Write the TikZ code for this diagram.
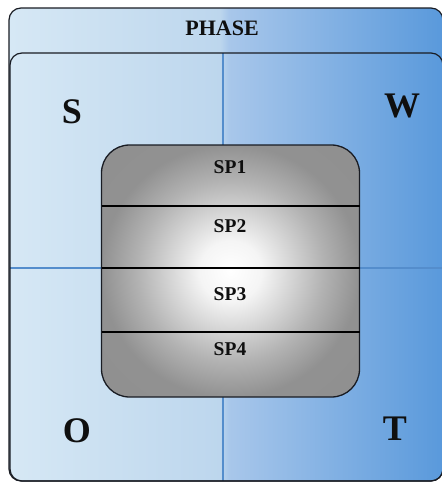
\documentclass[tikz,border=0pt]{standalone}
\usepackage{fontspec}
\setmainfont{Liberation Serif}

% background: light blue on the left, deeper blue on the right
% (a path's bounding box spans 25bp..75bp of the shading)
\pgfdeclarehorizontalshading{quadbg}{100bp}{%
  rgb(0bp)=(0.84,0.91,0.96);
  rgb(25bp)=(0.84,0.91,0.96);
  rgb(49.3bp)=(0.74,0.84,0.93);
  rgb(50.3bp)=(0.66,0.78,0.92);
  rgb(75bp)=(0.35,0.60,0.86);
  rgb(100bp)=(0.35,0.60,0.86)}
% central stack: bright core fading to grey
\pgfdeclareradialshading{stackglow}{\pgfpoint{0bp}{0bp}}{%
  rgb(0bp)=(1,1,1);
  rgb(6bp)=(0.96,0.96,0.96);
  rgb(18bp)=(0.70,0.70,0.70);
  rgb(25bp)=(0.57,0.57,0.57);
  rgb(50bp)=(0.55,0.55,0.55)}

\definecolor{frame}{RGB}{25,28,35}
\definecolor{divider}{RGB}{84,141,204}
\definecolor{ink}{RGB}{15,15,15}

\tikzset{
  frameline/.style={draw=frame, line width=1.2pt, rounded corners=12pt},
  axisline/.style={draw=divider, line width=2.2pt},
  stackbox/.style={shading=stackglow, draw=frame, line width=1.3pt, rounded corners=28pt},
  bandline/.style={draw=black, line width=1.4pt},
  quadlabel/.style={anchor=base, inner sep=0pt, text=ink,
    font=\fontsize{36}{36}\selectfont\bfseries},
  titlelabel/.style={anchor=base, inner sep=0pt, text=ink,
    font=\fontsize{22}{22}\selectfont\bfseries},
  bandlabel/.style={anchor=base, inner sep=0pt, text=ink,
    font=\fontsize{19.5}{19.5}\selectfont\bfseries},
}

\begin{document}
\begin{tikzpicture}[x=1pt, y=-1pt]
  \useasboundingbox (0,0) rectangle (442,485);

  % outer frame filled with the blue gradient
  \shade[shading=quadbg, rounded corners=12pt] (9,8) rectangle (443,481);

  % quadrant axes
  \draw[axisline] (223,53) -- (223,481);
  \draw[axisline] (10,268) -- (443,268);

  % outer and inner frames
  \draw[frameline] (9,8) rectangle (443,481);
  \draw[frameline] (10,53) rectangle (443,481);

  % central stack of sub-phases
  \shadedraw[stackbox] (101.5,145) rectangle (359.5,397);
  \draw[bandline] (101.5,206) -- (359.5,206);
  \draw[bandline] (101.5,268) -- (359.5,268);
  \draw[bandline] (101.5,332) -- (359.5,332);

  % labels
  \node[titlelabel] (phase) at (222,35) {PHASE};
  \node[quadlabel] (s) at (72,123) {S};
  \node[quadlabel] (w) at (402,117) {W};
  \node[quadlabel] (o) at (77,442) {O};
  \node[quadlabel] (t) at (395,440) {T};
  \node[bandlabel] (sp1) at (230,173) {SP1};
  \node[bandlabel] (sp2) at (230,232) {SP2};
  \node[bandlabel] (sp3) at (230,300) {SP3};
  \node[bandlabel] (sp4) at (230,355) {SP4};
\end{tikzpicture}
\end{document}
